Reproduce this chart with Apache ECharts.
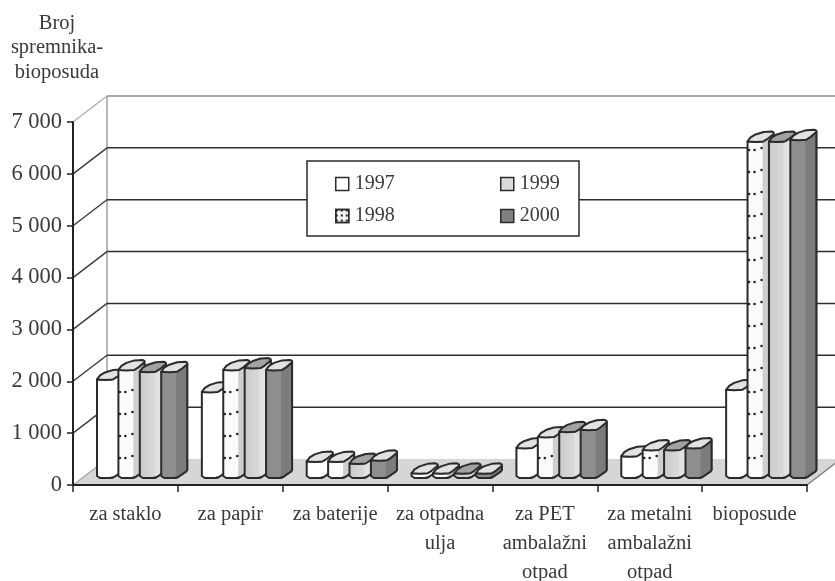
<!DOCTYPE html>
<html><head><meta charset="utf-8">
<style>html,body{margin:0;padding:0;background:#fff}#c{width:835px;height:581px}</style>
<script src="https://cdn.jsdelivr.net/npm/echarts@6/dist/echarts.min.js"></script>
</head><body><div id="c"></div>
<script>
var categories = ['za staklo','za papir','za baterije','za otpadna\nulja','za PET\nambalažni\notpad','za metalni\nambalažni\notpad','bioposude'];
var years = ['1997','1998','1999','2000'];
var s1997 = [1900,1660,320,90,580,420,1700];
var s1998 = [2085,2085,320,90,790,540,6490];
var s1999 = [2050,2120,280,90,890,540,6490];
var s2000 = [2050,2085,340,90,930,580,6525];
var yTicks = [0,1000,2000,3000,4000,5000,6000,7000];

var FONT = '"Liberation Serif", serif';
var TXT = '#3a3a3a';
var INK = '#2b2b2b';
var WALL_DX = 34, WALL_DY = 26;
var BAR = {start:24, step:21.4, w:15, dx:11, dy:8, lift:7};
var looks = [
  {front:'#ffffff', side:'#ffffff', cap:'#e2e2e2', dots:false},
  {front:'#fbfbfb', side:'#cfcfcf', cap:'#e2e2e2', dots:true},
  {front:{type:'linear',x:0,y:0,x2:1,y2:0,colorStops:[{offset:0,color:'#c9c9c9'},{offset:1,color:'#e6e6e6'}]}, side:'#e2e2e2', cap:'#a2a2a2', dots:false},
  {front:'#8e8e8e', side:'#7c7c7c', cap:'#e2e2e2', dots:false}
];
var legendFill = ['#ffffff','#f4f4f4','#dcdcdc','#808080'];

function barRender(si){
  return function(params, api){
    var cat = api.value(0), val = api.value(1);
    var band = api.size([1,0])[0];
    var L = api.coord([cat,0])[0] - band/2 + BAR.start + si*BAR.step;
    var base = api.coord([cat,0])[1] - BAR.lift;
    var top = api.coord([cat,val])[1] - BAR.lift;
    var R = L + BAR.w, X = R + BAR.dx, d = BAR.dy, k = looks[si];
    var st = {stroke:INK, lineWidth:2, lineJoin:'round'};
    var ch = [];
    ch.push({type:'polygon', shape:{points:[[L,top],[R,top],[X,top-d],[X,base-d],[X-1,base-d+1.5],[R+2,base-1],[R-1,base],[L+3,base],[L,base-2]]},
      style:Object.assign({fill:k.front},st)});
    ch.push({type:'polygon', shape:{points:[[R,top],[X,top-d],[X,base-d],[X-1,base-d+1.5],[R+2,base-1],[R,base]]},
      style:{fill:k.side, stroke:null}});
    ch.push({type:'polyline', shape:{points:[[X,top-d],[X,base-d],[X-1,base-d+1.5],[R+2,base-1],[R-1,base]]},
      style:{fill:null, stroke:INK, lineWidth:2, lineJoin:'round'}});
    ch.push({type:'polygon', shape:{points:[[L,top],[L+BAR.w*0.55,top+0.5],[R+1,top],[R+5,top-2.5],[X,top-d+0.5],[X,top-d-1],[X-2,top-d-2],[L+BAR.w+1,top-d-1.5],[L+8,top-d+1],[L+3,top-d+4]]},
      style:Object.assign({fill:k.cap},st)});
    if(k.dots){
      for(var y = base-20; y > top+3; y -= 22){
        [L+1.5, L+7, L+14].forEach(function(x,i){
          ch.push({type:'circle', shape:{cx:x, cy:y-(i===2?2:0), r:1.3}, style:{fill:'#222'}});
        });
      }
    }
    return {type:'group', children:ch};
  };
}

function frameRender(params, api){
  var v = api.value(1);
  var cs = params.coordSys;
  var y = api.coord([0,v])[1];
  var x0 = cs.x, x1 = cs.x + cs.width;
  var ch = [];
  if(v === 0){
    ch.push({type:'polygon', shape:{points:[[x0,y],[x0+WALL_DX,y-WALL_DY],[x1+WALL_DX,y-WALL_DY],[x1,y]]}, style:{fill:'#d6d6d6', stroke:null}});
    ch.push({type:'line', shape:{x1:x0,y1:y,x2:x0+WALL_DX,y2:y-WALL_DY}, style:{stroke:'#a8a8a8',lineWidth:1.3}});
    ch.push({type:'line', shape:{x1:x1,y1:y,x2:x1+WALL_DX,y2:y-WALL_DY}, style:{stroke:'#777',lineWidth:1.2}});
    ch.push({type:'line', shape:{x1:x0+WALL_DX,y1:y-WALL_DY,x2:x0+WALL_DX,y2:api.coord([0,7000])[1]-WALL_DY}, style:{stroke:'#a0a0a0',lineWidth:1.5}});
  } else {
    var c = v === 7000 ? '#8c8c8c' : '#2f2f2f';
    ch.push({type:'line', shape:{x1:x0,y1:y,x2:x0+WALL_DX,y2:y-WALL_DY}, style:{stroke:v===7000?'#b0b0b0':'#3a3a3a',lineWidth:1.4}});
    ch.push({type:'line', shape:{x1:x0+WALL_DX,y1:y-WALL_DY,x2:x1+WALL_DX,y2:y-WALL_DY}, style:{stroke:c,lineWidth:1.5}});
  }
  return {type:'group', children:ch};
}

var allSeries = [s1997,s1998,s1999,s2000];
var series = [{
  type:'custom', name:'frame', z:1, silent:true, renderItem:frameRender, clip:false,
  encode:{x:0,y:1}, data:yTicks.map(function(v){return [0,v];})
}].concat(allSeries.map(function(arr,si){
  return {
    type:'custom', name:years[si], z:2+si, renderItem:barRender(si), clip:false,
    encode:{x:0,y:1}, itemStyle:{color:legendFill[si]},
    data:arr.map(function(v,i){return [i,v];})
  };
}));

function legendFor(names, left){
  return {
    show:true, left:left, top:174, orient:'vertical', padding:0, itemGap:12, itemWidth:13, itemHeight:13,
    icon:'rect', selectedMode:false, z:10, inactiveColor:'#333',
    textStyle:{fontFamily:FONT, fontSize:20, color:TXT, padding:[0,0,0,1]},
    data:names.map(function(n){
      var st = {color:legendFill[years.indexOf(n)], borderColor:INK, borderWidth:1.5};
      if(n === '1998'){ st.decal = {symbol:'rect', symbolSize:1, color:'#222', dashArrayX:[2,3], dashArrayY:[2,3], rotation:0}; }
      return {name:n, itemStyle:st};
    })
  };
}

var chart = echarts.init(document.getElementById('c'), null, {renderer:'canvas'});
chart.setOption({
  animation:false,
  backgroundColor:'#ffffff',
  title:{text:'Broj\nspremnika-\nbioposuda', left:52, top:6, textAlign:'center',
    textStyle:{fontFamily:FONT, fontSize:20.5, fontWeight:'normal', color:TXT, lineHeight:24.5}},
  grid:{left:73, right:28, top:122, bottom:96, containLabel:false, outerBoundsMode:'none'},
  xAxis:{type:'category', data:categories, z:6,
    axisLine:{lineStyle:{color:'#222',width:2}},
    axisTick:{show:true, length:7, alignWithLabel:false, lineStyle:{color:'#222',width:1.5}},
    axisLabel:{interval:0, margin:15, fontFamily:FONT, fontSize:20.5, color:TXT, lineHeight:29},
    splitLine:{show:false}},
  yAxis:{type:'value', min:0, max:7000, interval:1000, z:6,
    axisLine:{show:true, lineStyle:{color:'#222',width:2}},
    axisTick:{show:true, length:6, lineStyle:{color:'#222',width:1.5}},
    axisLabel:{margin:11, fontFamily:FONT, fontSize:22.5, color:TXT, padding:[3,0,0,0],
      formatter:function(v){return v===0?'0':(v/1000)+' 000';}},
    splitLine:{show:false}},
  legend:[legendFor(['1997','1998'],335), legendFor(['1999','2000'],500)],
  graphic:{elements:[{type:'rect', z:5, shape:{x:307,y:161,width:272,height:75},
    style:{fill:'#fff',stroke:'#2a2a2a',lineWidth:1.5}}]},
  series:series
});
</script></body></html>
